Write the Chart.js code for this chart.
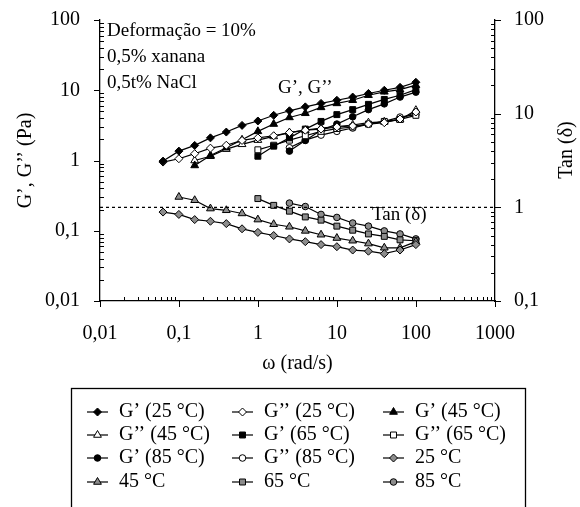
<!DOCTYPE html>
<html>
<head>
<meta charset="utf-8">
<script src="https://cdn.jsdelivr.net/npm/chart.js@4/dist/chart.umd.min.js"></script>
<style>
  html, body { margin: 0; padding: 0; background: #fff; }
  #wrap { width: 580px; height: 507px; }
</style>
</head>
<body>
<div id="wrap"><canvas id="chart" width="580" height="507"></canvas></div>
<script>
// angular frequency of the sweep (rad/s)
const freq = [0.0628, 0.0996, 0.158, 0.250, 0.397, 0.628, 0.996, 1.58, 2.50, 3.97, 6.28, 9.96, 15.8, 25.0, 39.7, 62.8, 99.6];

// moduli (Pa), null = not measured
const gp25  = [0.98, 1.36, 1.64, 2.1, 2.54, 3.16, 3.65, 4.4, 5.1, 5.8, 6.5, 7.2, 8.0, 9.0, 10.0, 11.0, 13.0];
const gpp25 = [0.95, 1.06, 1.25, 1.5, 1.65, 1.93, 2.1, 2.25, 2.5, 2.7, 2.8, 3.0, 3.1, 3.3, 3.45, 3.9, 4.9];
const gp45  = [null, null, 0.85, 1.18, 1.52, 1.97, 2.6, 3.3, 4.1, 4.7, 5.7, 6.5, 7.2, 8.5, 9.5, 10.2, 11.8];
const gpp45 = [null, null, 1.0, 1.15, 1.45, 1.7, 1.95, 2.2, 2.5, 2.7, 2.9, 3.05, 3.2, 3.45, 3.55, 3.8, 5.2];
const gp65  = [null, null, null, null, null, null, 1.15, 1.6, 2.1, 2.8, 3.6, 4.5, 5.3, 6.3, 7.4, 8.5, 10.2];
const gpp65 = [null, null, null, null, null, null, 1.42, 1.65, 1.95, 2.25, 2.6, 2.85, 3.0, 3.3, 3.6, 3.85, 4.4];
const gp85  = [null, null, null, null, null, null, null, null, 1.36, 1.93, 2.7, 3.3, 4.2, 5.3, 6.4, 8.0, 9.4];
const gpp85 = [null, null, null, null, null, null, null, null, 1.52, 1.95, 2.3, 2.6, 2.9, 3.3, 3.6, 4.15, 4.5];

// tan(delta)
const tan25 = [0.89, 0.84, 0.74, 0.71, 0.67, 0.59, 0.54, 0.50, 0.46, 0.43, 0.40, 0.38, 0.35, 0.34, 0.32, 0.35, 0.40];
const tan45 = [null, 1.29, 1.19, 0.97, 0.93, 0.86, 0.74, 0.66, 0.62, 0.56, 0.51, 0.47, 0.44, 0.41, 0.37, 0.37, 0.43];
const tan65 = [null, null, null, null, null, null, 1.24, 1.05, 0.91, 0.79, 0.73, 0.63, 0.57, 0.52, 0.49, 0.45, 0.44];
const tan85 = [null, null, null, null, null, null, null, null, 1.11, 1.02, 0.84, 0.78, 0.68, 0.63, 0.56, 0.52, 0.46];

// reference line tan(delta) = 1
const refX = [0.01, 1000];
const refY = [1, 1];

const xTickValues = [0.01, 0.1, 1, 10, 100, 1000];
const xTickLabels = ['0,01', '0,1', '1', '10', '100', '1000'];
const yTickValues = [0.01, 0.1, 1, 10, 100];
const yTickLabels = ['0,01', '0,1', '1', '10', '100'];
const y2TickValues = [0.1, 1, 10, 100];
const y2TickLabels = ['0,1', '1', '10', '100'];

const FONT = 'Liberation Serif';
const GREY = '#8c8c8c';

const series = [
  { label: 'G’ (25 °C)',  values: gp25,  axis: 'y',  style: 'rectRot',  fill: '#000', r: 4 },
  { label: 'G’’ (25 °C)', values: gpp25, axis: 'y',  style: 'rectRot',  fill: '#fff', r: 4 },
  { label: 'G’ (45 °C)',  values: gp45,  axis: 'y',  style: 'triangle', fill: '#000', r: 4.5 },
  { label: 'G’’ (45 °C)', values: gpp45, axis: 'y',  style: 'triangle', fill: '#fff', r: 4.5 },
  { label: 'G’ (65 °C)',  values: gp65,  axis: 'y',  style: 'rect',     fill: '#000', r: 4.2 },
  { label: 'G’’ (65 °C)', values: gpp65, axis: 'y',  style: 'rect',     fill: '#fff', r: 4.2 },
  { label: 'G’ (85 °C)',  values: gp85,  axis: 'y',  style: 'circle',   fill: '#000', r: 3.3 },
  { label: 'G’’ (85 °C)', values: gpp85, axis: 'y',  style: 'circle',   fill: '#fff', r: 3.3 },
  { label: '25 °C',       values: tan25, axis: 'y2', style: 'rectRot',  fill: GREY,   r: 4 },
  { label: '45 °C',       values: tan45, axis: 'y2', style: 'triangle', fill: GREY,   r: 4.5 },
  { label: '65 °C',       values: tan65, axis: 'y2', style: 'rect',     fill: GREY,   r: 4.2 },
  { label: '85 °C',       values: tan85, axis: 'y2', style: 'circle',   fill: GREY,   r: 3.3 }
];

const datasets = series.map(s => ({
  label: s.label,
  data: freq.map((f, i) => s.values[i] == null ? null : { x: f, y: s.values[i] }).filter(p => p),
  yAxisID: s.axis,
  borderColor: '#000',
  borderWidth: 1.2,
  pointStyle: s.style,
  pointRadius: s.r,
  pointBackgroundColor: s.fill,
  pointBorderColor: '#000',
  pointBorderWidth: 1,
  tension: 0
}));

datasets.unshift({
  label: 'ref',
  data: refX.map((x, i) => ({ x: x, y: refY[i] })),
  yAxisID: 'y2',
  borderColor: '#000',
  borderWidth: 1.2,
  borderDash: [3, 3],
  pointRadius: 0
});

function drawMarker(ctx, style, x, y, r, fill) {
  ctx.beginPath();
  if (style === 'circle') {
    ctx.arc(x, y, r, 0, Math.PI * 2);
  } else if (style === 'rect') {
    const s = r * Math.SQRT1_2;
    ctx.rect(x - s, y - s, 2 * s, 2 * s);
  } else if (style === 'rectRot') {
    ctx.moveTo(x, y - r); ctx.lineTo(x + r, y); ctx.lineTo(x, y + r); ctx.lineTo(x - r, y);
    ctx.closePath();
  } else if (style === 'triangle') {
    ctx.moveTo(x, y - r);
    ctx.lineTo(x + r * 0.866, y + r * 0.5);
    ctx.lineTo(x - r * 0.866, y + r * 0.5);
    ctx.closePath();
  }
  ctx.fillStyle = fill;
  ctx.fill();
  ctx.lineWidth = 1;
  ctx.strokeStyle = '#000';
  ctx.stroke();
}

// log minor/major tick marks, texts and the boxed legend
const extras = {
  id: 'extras',
  afterDraw(chart) {
    const ctx = chart.ctx;
    const a = chart.chartArea;
    const sx = chart.scales.x, sy = chart.scales.y, sy2 = chart.scales.y2;
    ctx.save();
    ctx.strokeStyle = '#000';
    ctx.lineWidth = 1;

    const eachLog = (min, max, fn) => {
      for (let d = Math.round(Math.log10(min)); d < Math.round(Math.log10(max)) + 1; d++) {
        for (let m = 1; m <= 9; m++) {
          const v = m * Math.pow(10, d);
          if (v > max * 1.0001) return;
          fn(v, m === 1);
        }
      }
    };

    ctx.beginPath();
    eachLog(0.01, 1000, (v, major) => {
      const p = Math.round(sx.getPixelForValue(v)) + 0.5;
      if (major) { ctx.moveTo(p, a.bottom); ctx.lineTo(p, a.bottom + 6); }
      else { ctx.moveTo(p, a.bottom); ctx.lineTo(p, a.bottom - 4); }
    });
    eachLog(0.01, 100, (v, major) => {
      const p = Math.round(sy.getPixelForValue(v)) + 0.5;
      if (major) { ctx.moveTo(a.left, p); ctx.lineTo(a.left - 6, p); }
      else { ctx.moveTo(a.left, p); ctx.lineTo(a.left + 4, p); }
    });
    eachLog(0.1, 100, (v, major) => {
      const p = Math.round(sy2.getPixelForValue(v)) + 0.5;
      if (major) { ctx.moveTo(a.right, p); ctx.lineTo(a.right + 6, p); }
      else { ctx.moveTo(a.right, p); ctx.lineTo(a.right - 4, p); }
    });
    ctx.stroke();

    // text inside and beside the plot
    ctx.fillStyle = '#000';
    ctx.font = '19px "' + FONT + '"';
    ctx.textBaseline = 'middle';
    ctx.textAlign = 'left';
    ctx.fillText('Deformação = 10%', 107, 31);
    ctx.fillText('0,5% xanana', 107, 57);
    ctx.fillText('0,5t% NaCl', 107, 83);
    ctx.fillText('G’, G’’', 278, 88);
    ctx.fillText('Tan (δ)', 372, 215);

    ctx.save();
    ctx.translate(567, 150);
    ctx.rotate(-Math.PI / 2);
    ctx.textAlign = 'center';
    ctx.font = '20px "' + FONT + '"';
    ctx.fillText('Tan (δ)', 0, 0);
    ctx.restore();

    // legend
    ctx.lineWidth = 1.3;
    ctx.strokeRect(71.5, 388.5, 454, 130);
    const colLine = [87, 232, 383];
    const rowY = [412, 435, 458, 482];
    ctx.font = '20px "' + FONT + '"';
    series.forEach((s, i) => {
      const c = i % 3, r = Math.floor(i / 3);
      const x0 = colLine[c], y = rowY[r];
      ctx.beginPath();
      ctx.lineWidth = 1.2;
      ctx.moveTo(x0, y); ctx.lineTo(x0 + 21, y);
      ctx.stroke();
      drawMarker(ctx, s.style, x0 + 10.5, y, s.r, s.fill);
      ctx.fillStyle = '#000';
      ctx.fillText(s.label, x0 + 32, y);
    });
    ctx.restore();
  }
};

Chart.defaults.font.family = FONT;
Chart.defaults.font.size = 20;
Chart.defaults.color = '#000';

const fitY = w => s => { s.width = w; s.paddingTop = 0; s.paddingBottom = 0; };

new Chart(document.getElementById('chart'), {
  type: 'line',
  data: { datasets: datasets },
  options: {
    responsive: false,
    animation: false,
    devicePixelRatio: 1,
    layout: { padding: { left: 0, right: 0, top: 20, bottom: 131 } },
    plugins: { legend: { display: false }, tooltip: { enabled: false } },
    elements: { line: { fill: false } },
    scales: {
      x: {
        type: 'logarithmic',
        min: 0.01, max: 1000,
        afterBuildTicks: s => { s.ticks = xTickValues.map(v => ({ value: v })); },
        afterFit: s => { s.height = 75; s.paddingLeft = 0; s.paddingRight = 0; },
        ticks: { callback: (v, i) => xTickLabels[i], padding: 21, maxRotation: 0, autoSkip: false },
        grid: { display: false, drawTicks: false },
        border: { display: true, color: '#000', width: 1.3 },
        title: { display: true, text: 'ω (rad/s)', padding: { top: 0, bottom: 0 } }
      },
      y: {
        type: 'logarithmic',
        position: 'left',
        min: 0.01, max: 100,
        afterBuildTicks: s => { s.ticks = yTickValues.map(v => ({ value: v })); },
        afterFit: fitY(100),
        ticks: { callback: (v, i) => yTickLabels[i], padding: 20, autoSkip: false },
        grid: { display: false, drawTicks: false },
        border: { display: true, color: '#000', width: 1.3 },
        title: { display: true, text: 'G’, G’’ (Pa)', padding: { top: 14, bottom: 0 } }
      },
      y2: {
        type: 'logarithmic',
        position: 'right',
        min: 0.1, max: 100,
        afterBuildTicks: s => { s.ticks = y2TickValues.map(v => ({ value: v })); },
        afterFit: fitY(85),
        ticks: { callback: (v, i) => y2TickLabels[i], padding: 19, autoSkip: false },
        grid: { display: false, drawTicks: false },
        border: { display: true, color: '#000', width: 1.3 }
      }
    }
  },
  plugins: [extras]
});
</script>
</body>
</html>
